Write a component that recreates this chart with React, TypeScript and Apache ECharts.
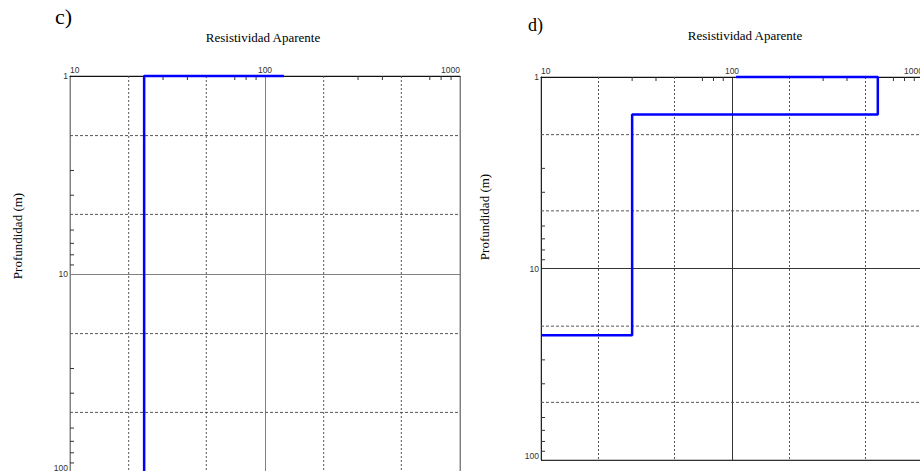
import React, { useEffect, useRef } from "react";
import * as echarts from "echarts";

// Panel c) data (resistivity vs depth)
const resC = [125, 24, 24];
const depthC = [1, 1, 100];
// Panel d) data
const resD = [105, 580, 580, 30, 30, 10];
const depthD = [1, 1, 1.57, 1.57, 22.3, 22.3];

const X_MIN = 10;
const X_MAX = 1000;
const Y_MIN = 1;
const Y_MAX = 100;
const dashX = [20, 50, 200, 500];
const dashY = [2, 5, 20, 50];
const minorX = [30, 40, 70, 80, 90, 300, 400, 700, 800, 900];
const minorY = [3, 4, 6, 7, 8, 9, 30, 40, 60, 70, 80, 90];

const TITLE = "Resistividad Aparente";
const YNAME = "Profundidad (m)";
const SERIF = "'Liberation Serif', 'DejaVu Serif', serif";
const SANS = "'Liberation Sans', Arial, sans-serif";

function dashSeries(gi: number, values: number[], dir: "v" | "h", color: string) {
  return {
    type: "custom",
    xAxisIndex: gi,
    yAxisIndex: gi,
    silent: true,
    z: 1,
    clip: false,
    data: values.map((v) => (dir === "v" ? [v, Y_MIN] : [X_MIN, v])),
    encode: { x: 0, y: 1 },
    renderItem: (_p: any, api: any) => {
      let p1: number[], p2: number[];
      if (dir === "v") {
        const v = api.value(0);
        p1 = api.coord([v, Y_MIN]);
        p2 = api.coord([v, Y_MAX]);
      } else {
        const v = api.value(1);
        p1 = api.coord([X_MIN, v]);
        p2 = api.coord([X_MAX, v]);
      }
      return {
        type: "line",
        shape: { x1: p1[0], y1: p1[1], x2: p2[0], y2: p2[1] },
        style: { stroke: color, lineWidth: 1, lineDash: dir === "v" ? [2, 2] : [3, 2] },
      };
    },
  };
}

function tickSeries(gi: number, values: number[], dir: "x" | "y", color: string) {
  return {
    type: "custom",
    xAxisIndex: gi,
    yAxisIndex: gi,
    silent: true,
    z: 2,
    clip: false,
    data: values.map((v) => (dir === "x" ? [v, Y_MIN] : [X_MIN, v])),
    encode: { x: 0, y: 1 },
    renderItem: (_p: any, api: any) => {
      const p = api.coord([api.value(0), api.value(1)]);
      const q = dir === "x" ? [p[0], p[1] + 4] : [p[0] + 4, p[1]];
      return {
        type: "line",
        shape: { x1: p[0], y1: p[1], x2: q[0], y2: q[1] },
        style: { stroke: color, lineWidth: 1 },
      };
    },
  };
}

const plainLabel = (v: number) => String(Math.round(v));

function xAxisFor(gi: number, lineColor: string, splitColor: string) {
  return {
    type: "log",
    logBase: 10,
    gridIndex: gi,
    position: "top",
    min: X_MIN,
    max: X_MAX,
    axisLine: { show: true, lineStyle: { color: lineColor, width: 1 } },
    axisTick: { show: false },
    splitLine: { show: true, lineStyle: { color: splitColor, width: 1 } },
    axisLabel: {
      fontSize: 8.5,
      fontFamily: SANS,
      color: "#333",
      margin: 2,
      formatter: plainLabel,
      alignMinLabel: "left",
      alignMaxLabel: "right",
    },
  };
}

function yAxisFor(gi: number, lineColor: string, splitColor: string) {
  return {
    type: "log",
    logBase: 10,
    gridIndex: gi,
    inverse: true,
    min: Y_MIN,
    max: Y_MAX,
    axisLine: { show: true, lineStyle: { color: lineColor, width: 1 } },
    axisTick: { show: false },
    splitLine: { show: true, lineStyle: { color: splitColor, width: 1 } },
    axisLabel: {
      fontSize: 8.5,
      fontFamily: SANS,
      color: "#333",
      margin: 2,
      formatter: plainLabel,
      verticalAlignMaxLabel: "bottom",
    },
  };
}

export default function App() {
  const ref = useRef<HTMLDivElement>(null);
  useEffect(() => {
    if (!ref.current) return;
    const chart = echarts.init(ref.current, undefined, { renderer: "svg" });
    const dataC = resC.map((r, i) => [r, depthC[i]]);
    const dataD = resD.map((r, i) => [r, depthD[i]]);
    chart.setOption({
      animation: false,
      backgroundColor: "#fff",
      grid: [
        { left: 70, top: 76, width: 390, height: 396, show: true, borderColor: "#888", borderWidth: 1, backgroundColor: "transparent", containLabel: false, outerBoundsMode: "none" },
        { left: 541, top: 77, width: 382, height: 383, show: true, borderColor: "#888", borderWidth: 1, backgroundColor: "transparent", containLabel: false, outerBoundsMode: "none" },
      ],
      xAxis: [xAxisFor(0, "#111", "#808080"), xAxisFor(1, "#111", "#333")],
      yAxis: [yAxisFor(0, "#808080", "#808080"), yAxisFor(1, "#222", "#333")],
      graphic: [
        { type: "text", x: 55, y: 16, style: { text: "c)", font: `22px ${SERIF}`, fill: "#000", textVerticalAlign: "middle" } },
        { type: "text", x: 528, y: 25, style: { text: "d)", font: `18px ${SERIF}`, fill: "#000", textVerticalAlign: "middle" } },
        { type: "text", x: 263, y: 37, style: { text: TITLE, font: `13px ${SERIF}`, fill: "#000", textAlign: "center", textVerticalAlign: "middle" } },
        { type: "text", x: 745, y: 35, style: { text: TITLE, font: `13px ${SERIF}`, fill: "#000", textAlign: "center", textVerticalAlign: "middle" } },
        { type: "text", x: 17, y: 236, rotation: Math.PI / 2, style: { text: YNAME, font: `13px ${SERIF}`, fill: "#000", textAlign: "center", textVerticalAlign: "middle" } },
        { type: "text", x: 484, y: 217, rotation: Math.PI / 2, style: { text: YNAME, font: `13px ${SERIF}`, fill: "#000", textAlign: "center", textVerticalAlign: "middle" } },
      ],
      series: [
        dashSeries(0, dashX, "v", "#555"),
        dashSeries(0, dashY, "h", "#555"),
        dashSeries(1, dashX, "v", "#555"),
        dashSeries(1, dashY, "h", "#555"),
        tickSeries(0, minorX, "x", "#333"),
        tickSeries(0, minorY, "y", "#333"),
        tickSeries(1, minorX, "x", "#333"),
        tickSeries(1, minorY, "y", "#333"),
        {
          type: "line",
          xAxisIndex: 0,
          yAxisIndex: 0,
          data: dataC,
          showSymbol: false,
          clip: false,
          z: 5,
          lineStyle: { color: "#0000ff", width: 2.5 },
          silent: true,
        },
        {
          type: "line",
          xAxisIndex: 1,
          yAxisIndex: 1,
          data: dataD,
          showSymbol: false,
          clip: false,
          z: 5,
          lineStyle: { color: "#0000ff", width: 2.5 },
          silent: true,
        },
      ],
    });
    return () => chart.dispose();
  }, []);
  return (
    <div
      ref={ref}
      style={{ position: "fixed", left: 0, top: 0, width: 920, height: 471, background: "#fff" }}
    />
  );
}
